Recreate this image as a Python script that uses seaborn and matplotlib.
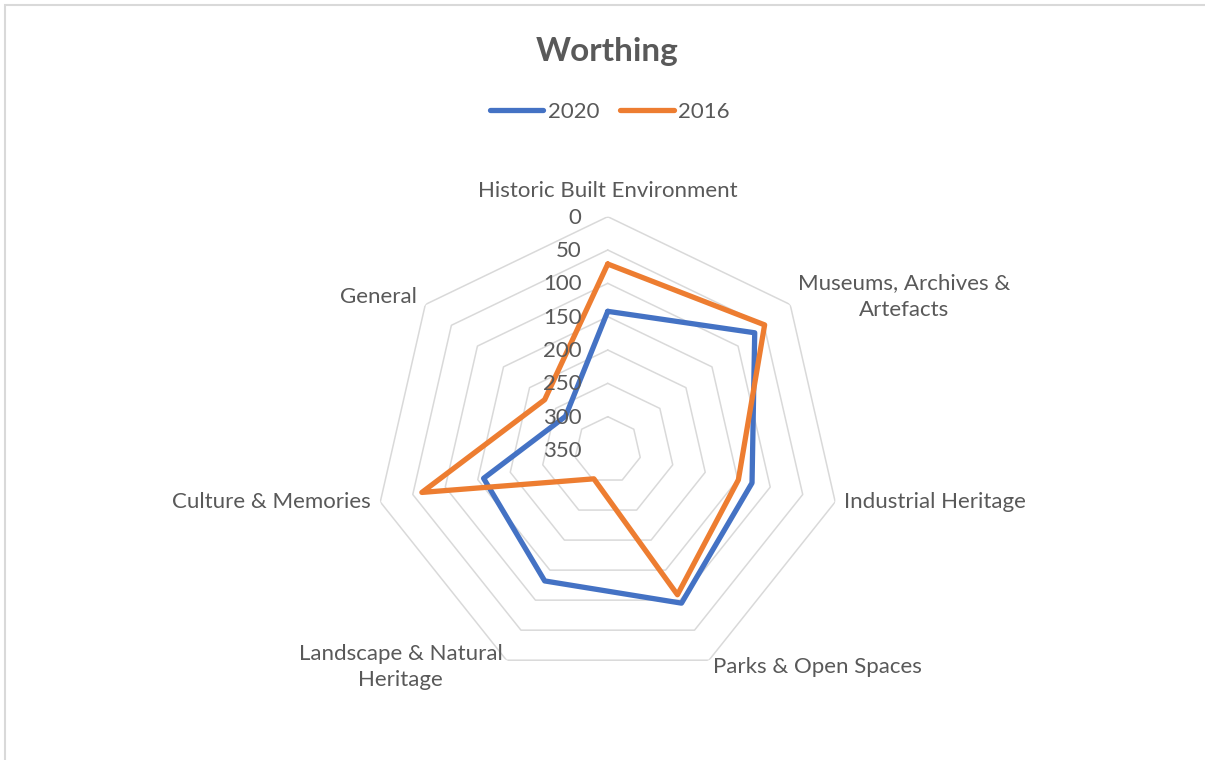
import numpy as np
import pandas as pd
import seaborn as sns
import matplotlib.pyplot as plt
from matplotlib.patches import Rectangle

# categories clockwise from the top, reversed radial axis (0 outside, 350 centre)
categories = ["Historic Built Environment", "Museums, Archives &\nArtefacts", "Industrial Heritage",
              "Parks & Open Spaces", "Landscape & Natural\nHeritage", "Culture & Memories", "General"]
vals_2020 = [142, 68, 128, 95, 132, 159, 269]
vals_2016 = [71, 49, 149, 109, 302, 64, 229]
years = ["2020", "2016"]
ring_values = [0, 50, 100, 150, 200, 250, 300, 350]

sns.set_theme(style="white")
plt.rcParams['font.family'] = ['Lato', 'DejaVu Sans']
txt_col = "#595959"
fs = 16

n = len(categories)
theta = np.linspace(0, 2 * np.pi, n, endpoint=False)
theta_closed = np.append(theta, 2 * np.pi)

rows = []
for yr, vals in zip(years, [vals_2020, vals_2016]):
    for t, v in zip(theta_closed, vals + vals[:1]):
        rows.append({"theta": t, "value": v, "year": yr})
df = pd.DataFrame(rows)

fig = plt.figure(figsize=(12.05, 7.6), dpi=100)
ax = fig.add_axes([0.3107, 0.1009, 0.3873, 0.614], projection="polar")
ax.set_theta_zero_location("N")
ax.set_theta_direction(-1)

# heptagon rings
for r in ring_values[:-1]:
    ax.plot(theta_closed, [r] * (n + 1), color="#d9d9d9", lw=1.1, zorder=1)

sns.lineplot(data=df, x="theta", y="value", hue="year", sort=False, estimator=None,
             palette=["#4472C4", "#ED7D31"], linewidth=3.8, ax=ax, zorder=3)
for ln in ax.lines[-2:]:
    ln.set_solid_joinstyle("round")
    ln.set_solid_capstyle("round")

ax.set_ylim(350, 0)
ax.grid(False)
ax.spines["polar"].set_visible(False)
ax.set_xticks([])
ax.set_yticks([])
ax.set_xlabel("")
ax.set_ylabel("")

# radial labels
for v in ring_values:
    ax.annotate(str(v), xy=(0, v), xytext=(-26, -1), textcoords="offset pixels",
                ha="right", va="center", fontsize=fs, color=txt_col, annotation_clip=False)

# category labels: (dx, dy, ha, va)
lab_style = [(0, 16, "center", "bottom"), (8, 8, "left", "center"), (9, 0, "left", "center"),
             (4, -7, "left", "center"), (-4, -7, "right", "center"), (-10, 0, "right", "center"),
             (-8, 8, "right", "center")]
for t, lab, (dx, dy, ha, va) in zip(theta, categories, lab_style):
    ax.annotate(lab, xy=(t, 0), xytext=(dx, dy), textcoords="offset pixels", ha=ha, va=va,
                multialignment="center", linespacing=1.4, fontsize=fs, color=txt_col,
                annotation_clip=False)

sns.move_legend(ax, "center", bbox_to_anchor=(0.506, 0.853), bbox_transform=fig.transFigure,
                ncol=2, frameon=False, title=None, fontsize=fs, handlelength=2.4,
                handletextpad=0.2, columnspacing=0.95)
for t in ax.get_legend().get_texts():
    t.set_color(txt_col)
for h in ax.get_legend().get_lines():
    h.set_linewidth(3.8)
    h.set_solid_capstyle("round")

fig.text(0.504, 1 - 51 / 760, "Worthing", ha="center", va="center", fontsize=24,
         fontweight="bold", color=txt_col)

fig.add_artist(Rectangle((5 / 1205, -0.1), 2, 0.994 + 0.1, transform=fig.transFigure,
                         fill=False, ec="#d9d9d9", lw=1.5))

fig.savefig("out.png", dpi=100)
